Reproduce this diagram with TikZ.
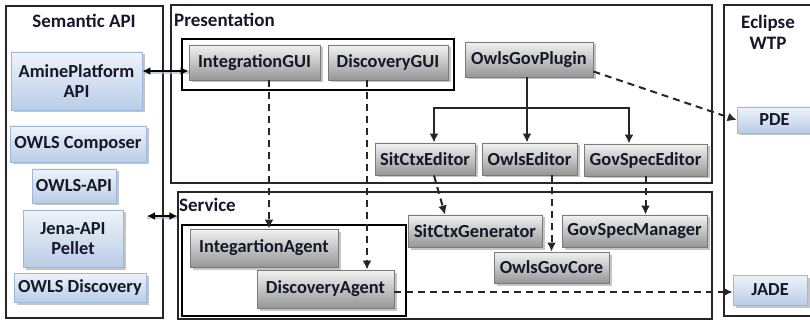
\documentclass[tikz,border=0pt]{standalone}
\usepackage{fontspec}
\setmainfont{Carlito}
\usetikzlibrary{arrows.meta,shadows}

\definecolor{bluetop}{HTML}{EEF3FA}
\definecolor{bluebot}{HTML}{B9CDE6}
\definecolor{blueedge}{HTML}{9DB8DA}
\definecolor{graytop}{HTML}{F2F2F2}
\definecolor{graybot}{HTML}{969696}
\definecolor{grayedge}{HTML}{7A7A7A}
\definecolor{ink}{HTML}{16182A}
\definecolor{glow}{HTML}{A9BCD6}

\tikzset{
  box/.style={rectangle, inner sep=0pt, align=center, text=ink,
    font=\bfseries\fontsize{18.4}{20}\selectfont,
    drop shadow={shadow xshift=2.5pt, shadow yshift=-2.5pt, fill=black!45, opacity=0.5}},
  bluebox/.style={box, draw=blueedge, line width=0.9pt, top color=bluetop, bottom color=bluebot},
  graybox/.style={box, draw=grayedge, line width=0.9pt, top color=graytop, bottom color=graybot},
  frame/.style={rectangle, inner sep=0pt, draw=black!85, line width=1.2pt},
  group/.style={rectangle, inner sep=0pt, draw=black, line width=1.4pt},
  title/.style={font=\bfseries\fontsize{19}{21}\selectfont, text=ink, inner sep=0pt, align=center},
  flow/.style={draw=black!85, line width=2pt, -{Latex[length=9pt,width=9pt]}},
  dep/.style={flow, dash pattern=on 7pt off 5pt},
  link/.style={draw=black, line width=2pt, {Latex[length=8pt,width=8pt]}-{Latex[length=8pt,width=8pt]}},
  halo/.style={draw=glow, line width=3pt, opacity=0.7},
}

\begin{document}
\begin{tikzpicture}[x=1pt,y=-1pt]
\useasboundingbox (0,0) rectangle (810,320);
\clip (0,0) rectangle (810,320);

% layer frames
\node[frame, minimum width=157pt, minimum height=312pt] (sem) at (84.5,162) {};
\node[frame, minimum width=541pt, minimum height=178pt] (pres) at (441.5,94) {};
\node[frame, minimum width=534pt, minimum height=127pt] (svc) at (445,255.5) {};
\node[frame, minimum width=96pt, minimum height=311pt] (ecl) at (772,160.5) {};

% inner groupings
\node[group, minimum width=272pt, minimum height=51pt] (guigrp) at (318,64.5) {};
\node[group, minimum width=224pt, minimum height=91pt] (agentgrp) at (294,270.5) {};

% frame titles
\node[title] (semt) at (84,21) {Semantic API};
\node[title, anchor=west] (prest) at (174,20) {Presentation};
\node[title, anchor=west] (svct) at (179,205) {Service};
\node[title] (eclt) at (768,32) {Eclipse\\WTP};

% semantic API components
\node[bluebox, minimum width=131pt, minimum height=58pt] (amine) at (76.5,81) {AminePlatform\\API};
\node[bluebox, minimum width=136pt, minimum height=36pt] (composer) at (78,144) {OWLS Composer};
\node[bluebox, minimum width=84pt, minimum height=34pt] (owlsapi) at (74,186) {OWLS-API};
\node[bluebox, minimum width=100pt, minimum height=57pt] (jena) at (73,238.5) {Jena-API\\Pellet};
\node[bluebox, minimum width=132pt, minimum height=29pt] (owlsdisc) at (80,287.5) {OWLS Discovery};

% presentation components
\node[graybox, minimum width=131pt, minimum height=35pt] (igui) at (254.5,62.5) {IntegrationGUI};
\node[graybox, minimum width=120pt, minimum height=35pt] (dgui) at (388,62.5) {DiscoveryGUI};
\node[graybox, minimum width=128pt, minimum height=35pt] (plugin) at (529,59.5) {OwlsGovPlugin};
\node[graybox, minimum width=100pt, minimum height=32pt] (sitedit) at (425,159) {SitCtxEditor};
\node[graybox, minimum width=95pt, minimum height=32pt] (owlsedit) at (529.5,159) {OwlsEditor};
\node[graybox, minimum width=123pt, minimum height=32pt] (govedit) at (645.5,160) {GovSpecEditor};

% service components
\node[graybox, minimum width=134pt, minimum height=32pt] (sitgen) at (475,231) {SitCtxGenerator};
\node[graybox, minimum width=145pt, minimum height=32pt] (govman) at (634.5,231) {GovSpecManager};
\node[graybox, minimum width=115pt, minimum height=31pt] (core) at (551.5,267.5) {OwlsGovCore};
\node[graybox, minimum width=148pt, minimum height=38pt] (iagent) at (264,248) {IntegartionAgent};
\node[graybox, minimum width=137pt, minimum height=38pt] (dagent) at (325.5,289) {DiscoveryAgent};

% Eclipse WTP components
\node[bluebox, minimum width=75pt, minimum height=26pt] (pde) at (774.5,120) {PDE};
\node[bluebox, minimum width=74pt, minimum height=30pt] (jade) at (770,290) {JADE};

% helper coordinates
\coordinate (aline) at (0,71);
\coordinate (sline) at (147,216);
\coordinate (xi) at (269,0);
\coordinate (xd) at (367,0);
\coordinate (hb) at (527,108);
\coordinate (xs) at (434,0);
\coordinate (xg) at (629,0);

% two-way links
\path[halo] ([yshift=-2pt]amine.east |- aline) -- ([yshift=-2pt]igui.west |- aline);
\draw[link] (amine.east |- aline) -- (igui.west |- aline);
\path[halo] ([yshift=-2pt]sline) -- ([yshift=-2pt]svc.west |- sline);
\draw[link] (sline) -- (svc.west |- sline);

% plugin fan-out
\draw[flow] (plugin.south -| hb) -- (owlsedit.north -| hb);
\draw[flow] (hb) -| (sitedit.north -| xs);
\draw[flow] (hb) -| (govedit.north -| xg);

% dependencies
\draw[dep] (igui.south -| xi) -- (iagent.north -| xi);
\draw[dep] (dgui.south -| xd) -- (dagent.north -| xd);
\draw[dep] ([yshift=-12pt]plugin.east) -- (pde.west);
\draw[dep] (sitedit.south -| xs) -- ([xshift=-30pt]sitgen.north);
\draw[dep] (owlsedit.south -| core.north) -- (core.north);
\draw[dep] (govedit.south) -- (govedit.south |- govman.north);
\draw[dep] ([yshift=-3pt]dagent.east) -- ([yshift=-3pt]dagent.east -| jade.west);
\end{tikzpicture}
\end{document}
